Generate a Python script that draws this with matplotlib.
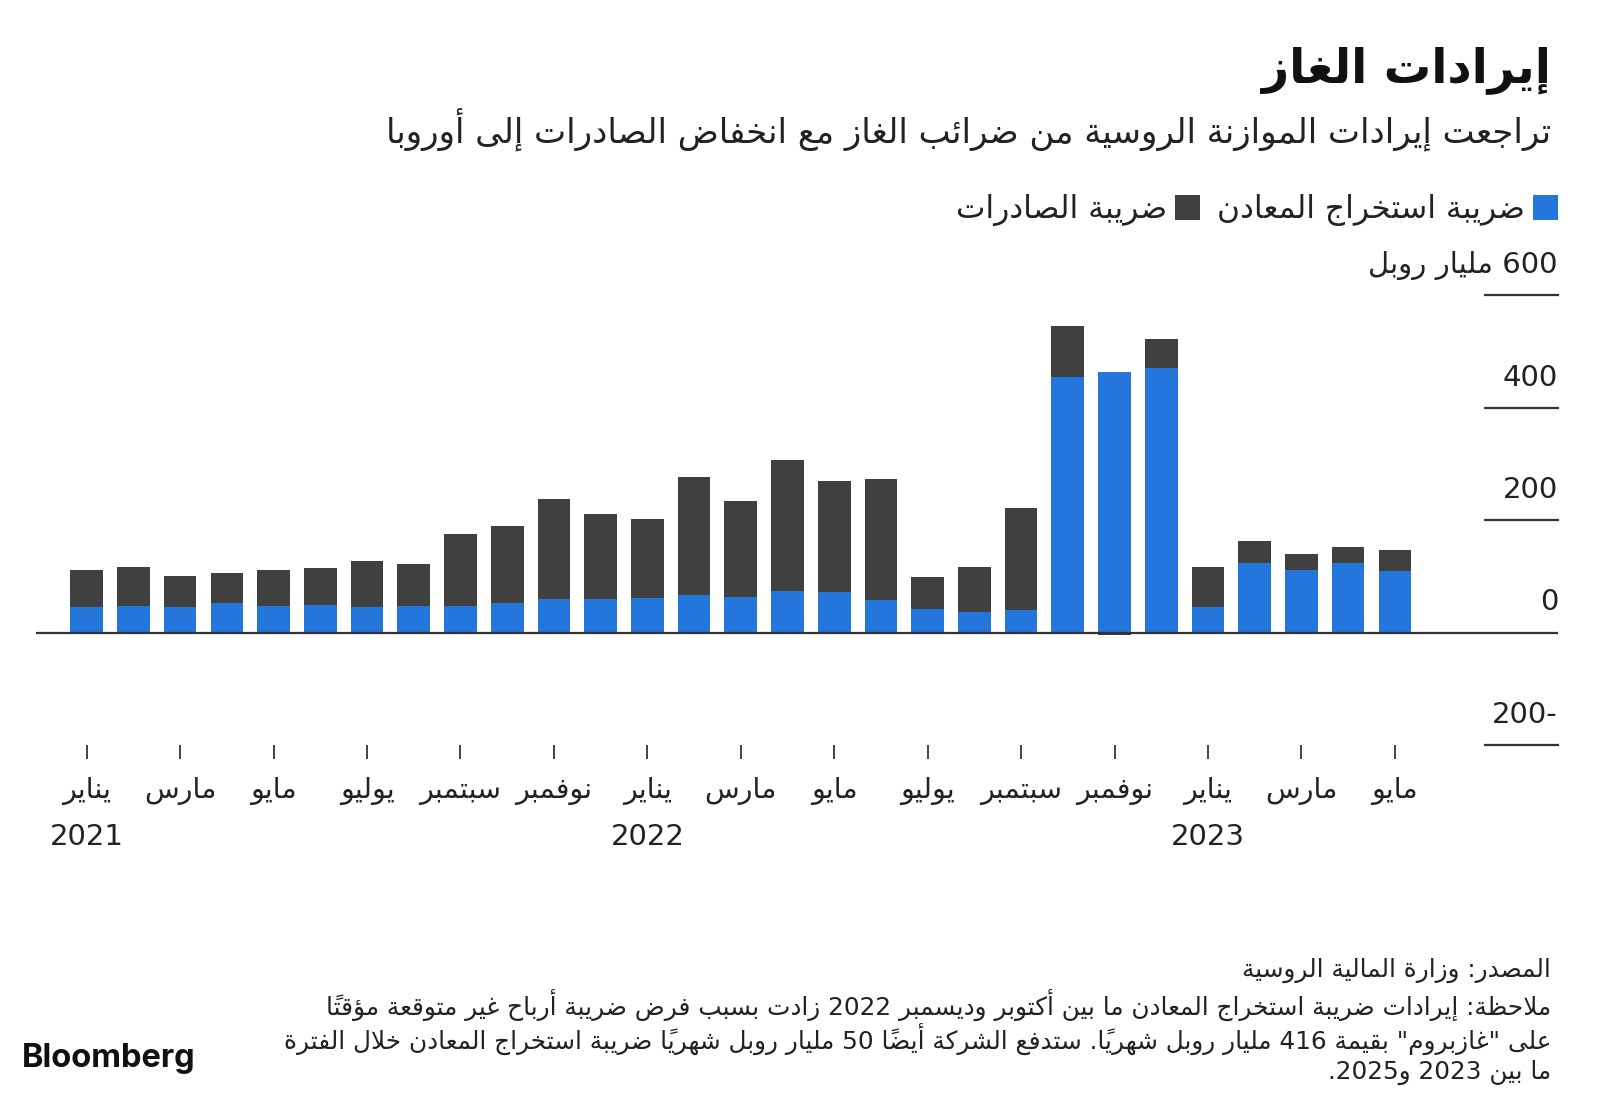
import numpy as np
import matplotlib
matplotlib.use('Agg')
import matplotlib.pyplot as plt
from matplotlib.transforms import blended_transform_factory, offset_copy

# ------------------------------------------------------------------ data
periods = ['2021-01', '2021-02', '2021-03', '2021-04', '2021-05', '2021-06',
           '2021-07', '2021-08', '2021-09', '2021-10', '2021-11', '2021-12',
           '2022-01', '2022-02', '2022-03', '2022-04', '2022-05', '2022-06',
           '2022-07', '2022-08', '2022-09', '2022-10', '2022-11', '2022-12',
           '2023-01', '2023-02', '2023-03', '2023-04', '2023-05']
# mineral extraction tax (blue), billion roubles
mineral_tax = [45, 48, 45, 52, 48, 49, 45, 47, 48, 52, 60, 60,
               62, 67, 64, 73, 72, 57, 42, 36, 40, 455, 464, 470,
               45, 123, 111, 123, 109]
# export duty (dark), billion roubles
export_tax = [67, 68, 55, 53, 64, 66, 83, 75, 127, 137, 177, 150,
              140, 209, 170, 233, 198, 216, 56, 80, 181, 90, -5, 52,
              72, 40, 29, 29, 38]
month_tick_labels = ['يناير', 'مارس', 'مايو', 'يوليو', 'سبتمبر', 'نوفمبر',
                     'يناير', 'مارس', 'مايو', 'يوليو', 'سبتمبر', 'نوفمبر',
                     'يناير', 'مارس', 'مايو']
year_labels = ['2021', '2022', '2023']
y_ticks = [600, 400, 200, 0, -200]
y_tick_labels = ['600 مليار روبل', '400', '200', '0', '-200']
series_labels = ['ضريبة استخراج المعادن', 'ضريبة الصادرات']
title = 'إيرادات الغاز'
subtitle = 'تراجعت إيرادات الموازنة الروسية من ضرائب الغاز مع انخفاض الصادرات إلى أوروبا'
footer_lines = [
    'المصدر: وزارة المالية الروسية',
    'ملاحظة: إيرادات ضريبة استخراج المعادن ما بين أكتوبر وديسمبر 2022 زادت بسبب فرض ضريبة أرباح غير متوقعة مؤقتاً',
    'على "غازبروم" بقيمة 416 مليار روبل شهرياً. ستدفع الشركة أيضاً 50 مليار روبل شهرياً ضريبة استخراج المعادن خلال الفترة',
    'ما بين 2023 و2025.',
]

# ------------------------------------------------------------------ arabic shaping (presentation forms + RTL order)
_FORMS_SPEC = [
    ('\u0621', 0xFE80, 1), ('\u0622', 0xFE81, 2), ('\u0623', 0xFE83, 2),
    ('\u0624', 0xFE85, 2), ('\u0625', 0xFE87, 2), ('\u0626', 0xFE89, 4),
    ('\u0627', 0xFE8D, 2), ('\u0628', 0xFE8F, 4), ('\u0629', 0xFE93, 2),
    ('\u062A', 0xFE95, 4), ('\u062B', 0xFE99, 4), ('\u062C', 0xFE9D, 4),
    ('\u062D', 0xFEA1, 4), ('\u062E', 0xFEA5, 4), ('\u062F', 0xFEA9, 2),
    ('\u0630', 0xFEAB, 2), ('\u0631', 0xFEAD, 2), ('\u0632', 0xFEAF, 2),
    ('\u0633', 0xFEB1, 4), ('\u0634', 0xFEB5, 4), ('\u0635', 0xFEB9, 4),
    ('\u0636', 0xFEBD, 4), ('\u0637', 0xFEC1, 4), ('\u0638', 0xFEC5, 4),
    ('\u0639', 0xFEC9, 4), ('\u063A', 0xFECD, 4), ('\u0641', 0xFED1, 4),
    ('\u0642', 0xFED5, 4), ('\u0643', 0xFED9, 4), ('\u0644', 0xFEDD, 4),
    ('\u0645', 0xFEE1, 4), ('\u0646', 0xFEE5, 4), ('\u0647', 0xFEE9, 4),
    ('\u0648', 0xFEED, 2), ('\u0649', 0xFEEF, 2), ('\u064A', 0xFEF1, 4),
]
FORMS = {c: (start, k) for c, start, k in _FORMS_SPEC}
LAM_ALEF = {'\u0622': 0xFEF5, '\u0623': 0xFEF7, '\u0625': 0xFEF9, '\u0627': 0xFEFB}


def is_mark(c):
    return '\u064B' <= c <= '\u0652' or c == '\u0670'


def shape(s):
    n = len(s)

    def prev_idx(i):
        j = i - 1
        while j >= 0 and is_mark(s[j]):
            j -= 1
        return j

    def next_idx(i):
        j = i + 1
        while j < n and is_mark(s[j]):
            j += 1
        return j

    out = []
    i = 0
    while i < n:
        c = s[i]
        if c in FORMS:
            p = prev_idx(i)
            jp = p >= 0 and s[p] in FORMS and FORMS[s[p]][1] == 4
            q = next_idx(i)
            nc = s[q] if q < n else ''
            if c == '\u0644' and nc in LAM_ALEF:
                out.append(chr(LAM_ALEF[nc] + (1 if jp else 0)))
                out.extend(s[i + 1:q])
                i = q + 1
                continue
            start, k = FORMS[c]
            jn = k == 4 and nc in FORMS
            if k == 1:
                f = 0
            elif k == 2:
                f = 1 if jp else 0
            else:
                f = (3 if jn else 1) if jp else (2 if jn else 0)
            out.append(chr(start + f))
        else:
            out.append(c)
        i += 1
    return ''.join(out)


def ar(s):
    sh = shape(s)
    clusters = []
    for c in sh:
        if is_mark(c) and clusters:
            clusters[-1] += c
        else:
            clusters.append(c)
    clusters.reverse()
    out, run = [], []
    for cl in clusters:
        if cl[0].isascii() and cl[0].isalnum():
            run.append(cl)
        else:
            if run:
                out.extend(reversed(run))
                run = []
            out.append(cl)
    if run:
        out.extend(reversed(run))
    return ''.join(out)


# ------------------------------------------------------------------ figure
W, H = 1600, 1114
plt.rcParams['font.family'] = ['DejaVu Sans']
fig = plt.figure(figsize=(W / 100, H / 100), dpi=100)
fig.patch.set_facecolor('white')


def fx(px):
    return px / W


def fy(py):
    return 1 - py / H


ax_left, ax_right, ax_top, ax_bottom = 36, 1558, 280, 759
ax = fig.add_axes([fx(ax_left), fy(ax_bottom), (ax_right - ax_left) / W, (ax_bottom - ax_top) / H])

BLUE = '#2476DC'
DARK = '#404040'
INK = '#222222'

x = np.arange(len(periods))
mineral = np.array(mineral_tax, dtype=float)
export = np.array(export_tax, dtype=float)
bottom_export = np.where(export >= 0, mineral, 0.0)

b1 = ax.bar(x, mineral, width=0.70, color=BLUE, linewidth=0, zorder=2)
b2 = ax.bar(x, export, bottom=bottom_export, width=0.70, color=DARK, linewidth=0, zorder=2)

# scale: 0 at y=632.5 px, 200 units per 112.5 px
u = 200 / 112.5
ax.set_ylim((632.5 - ax_bottom) * u, (632.5 - ax_top) * u)
step = 46.72
x0 = 86.7
ax.set_xlim((ax_left - x0) / step, (ax_right - x0) / step)

for s in ax.spines.values():
    s.set_visible(False)
ax.set_facecolor('none')
ax.set_yticks([])

# baseline
ax.axhline(0, color='#333333', lw=1.6, zorder=3)
# short gridline stubs at right
stub_start = (1485 - ax_left) / (ax_right - ax_left)
ytr = ax.get_yaxis_transform()
for v in y_ticks:
    if v != 0:
        ax.plot([stub_start, 1.0], [v, v], transform=ytr, color='#333333', lw=1.6, clip_on=False)

# y labels above stubs
lab_tr = offset_copy(ytr, fig=fig, x=0, y=22, units='dots')
for v, lab in zip(y_ticks, y_tick_labels):
    ax.text(1.0, v, ar(lab), transform=lab_tr, ha='right', va='baseline',
            fontsize=21, color=INK)

# x ticks
ax.set_xticks(x[::2])
ax.set_xticklabels([ar(m) for m in month_tick_labels], fontsize=20.5, color=INK)
ax.tick_params(axis='x', direction='in', length=10, width=1.3, color='#333333', pad=13)

# years
year_idx = [i for i, p in enumerate(periods) if p.endswith('-01')]
yr_tr = offset_copy(blended_transform_factory(ax.transData, ax.transAxes), fig=fig, x=0, y=-(837 - ax_bottom), units='dots')
for i, yl in zip(year_idx, year_labels):
    ax.text(x[i], 0, yl, transform=yr_tr, ha='center', va='center', fontsize=21, color=INK)

# title / subtitle
fig.text(fx(1551), fy(70), ar(title), ha='right', va='center', fontsize=34,
         fontweight='bold', color='#111111')
fig.text(fx(1551), fy(129), ar(subtitle), ha='right', va='center', fontsize=24.5,
         color=INK)

# legend (RTL: blue entry on the right)
fig.legend([b2, b1], [ar(series_labels[1]), ar(series_labels[0])], ncol=2,
           markerfirst=False, frameon=False, loc='center right',
           bbox_to_anchor=(fx(1558), fy(210)), borderpad=0, borderaxespad=0,
           handlelength=0.8, handleheight=0.85, handletextpad=0.25,
           columnspacing=0.55, fontsize=22.5, labelcolor=INK)

# footer
foot_y = [970, 1005, 1039, 1072]
for yy, line in zip(foot_y, footer_lines):
    fig.text(fx(1551), fy(yy), ar(line), ha='right', va='center', fontsize=17.8, color=INK)

fig.text(fx(22), fy(1058), 'Bloomberg', ha='left', va='center', fontsize=23.5,
         fontweight='bold', family=['Inter', 'DejaVu Sans'], color='#111111')

fig.savefig('out.png', dpi=100, facecolor='white')
